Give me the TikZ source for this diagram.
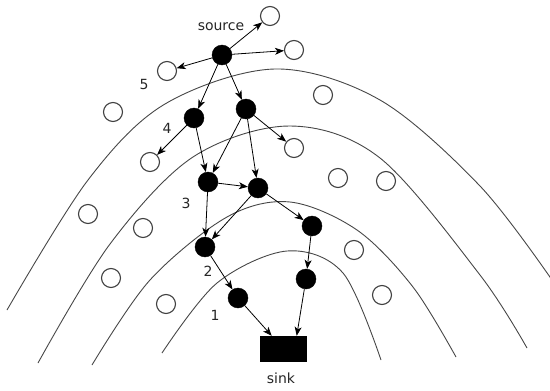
\documentclass[tikz,border=0pt]{standalone}
\usepackage{fontspec}
\setmainfont{DejaVu Sans}
\usetikzlibrary{arrows.meta}
\begin{document}
\begin{tikzpicture}[x=1pt,y=-1pt,
  blk/.style={circle,fill=black,draw=black,inner sep=0pt,minimum size=20pt},
  hol/.style={circle,draw=black!75,line width=1.1pt,fill=white,inner sep=0pt,minimum size=19pt},
  lbl/.style={font=\fontsize{14}{16}\selectfont,text=black!85,inner sep=0pt},
  arr/.style={-{Stealth[length=9pt,width=7pt,inset=2.5pt]},line width=0.8pt},
  layer/.style={line width=0.9pt,draw=black!72}]
\useasboundingbox (0,0) rectangle (550,391);
% layer curves
\draw[layer] plot[smooth,tension=0.55] coordinates {(7,310) (88,180) (165,104) (275,69) (380,100) (480,186) (552,280)};
\draw[layer] plot[smooth,tension=0.55] coordinates {(38,363) (110,244) (193,157) (290,126) (380,158) (480,275) (527,348)};
\draw[layer] plot[smooth,tension=0.55] coordinates {(92,365) (150,280) (227,217) (290,202) (357,230) (413,287) (456,357)};
\draw[layer] plot[smooth,tension=0.55] coordinates {(162,353) (217,283) (287,251) (343,273) (381,360)};
% hollow nodes
\node[hol] (h1) at (270,16) {};
\node[hol] (h2) at (294,50) {};
\node[hol] (h3) at (167,71) {};
\node[hol] (h4) at (113,112) {};
\node[hol] (h5) at (323,95) {};
\node[hol] (h6) at (150,162) {};
\node[hol] (h7) at (294,148) {};
\node[hol] (h8) at (338,178) {};
\node[hol] (h9) at (386,181) {};
\node[hol] (h10) at (88,214) {};
\node[hol] (h11) at (143,228) {};
\node[hol] (h12) at (354,250) {};
\node[hol] (h13) at (111,278) {};
\node[hol] (h14) at (166,304) {};
\node[hol] (h15) at (382,295) {};
% black nodes
\node[blk] (s) at (222,55) {};
\node[blk] (a4) at (194,118) {};
\node[blk] (b4) at (246,109) {};
\node[blk] (a3) at (208,182) {};
\node[blk] (b3) at (258,188) {};
\node[blk] (a2) at (205,247) {};
\node[blk] (r2) at (312,226) {};
\node[blk] (r1) at (306,279) {};
\node[blk] (a1) at (238,298) {};
\node[rectangle,fill=black,inner sep=0pt,minimum width=47pt,minimum height=26pt] (sink) at (283.5,349) {};
% labels
\node[lbl] (tsrc) at (221,27) {source};
\node[lbl] (tsink) at (281,378) {sink};
\node[lbl] (t5) at (144,84) {5};
\node[lbl] (t4) at (167,128) {4};
\node[lbl] (t3) at (186,203) {3};
\node[lbl] (t2) at (208,271) {2};
\node[lbl] (t1) at (215,315) {1};
% arrows
\draw[arr] (s) -- (h1);
\draw[arr] (s) -- (h2);
\draw[arr] (s) -- (h3);
\draw[arr] (s) -- (a4);
\draw[arr] (s) -- (b4);
\draw[arr] (a4) -- (h6);
\draw[arr] (a4) -- (a3);
\draw[arr] (b4) -- (a3);
\draw[arr] (b4) -- (b3);
\draw[arr] (b4) -- (h7);
\draw[arr] (a3) -- (b3);
\draw[arr] (a3) -- (a2);
\draw[arr] (b3) -- (a2);
\draw[arr] (b3) -- (r2);
\draw[arr] (r2) -- (r1);
\draw[arr] (a2) -- (a1);
\draw[arr] (a1) -- (sink);
\draw[arr] (r1) -- (sink.45);
\end{tikzpicture}
\end{document}
